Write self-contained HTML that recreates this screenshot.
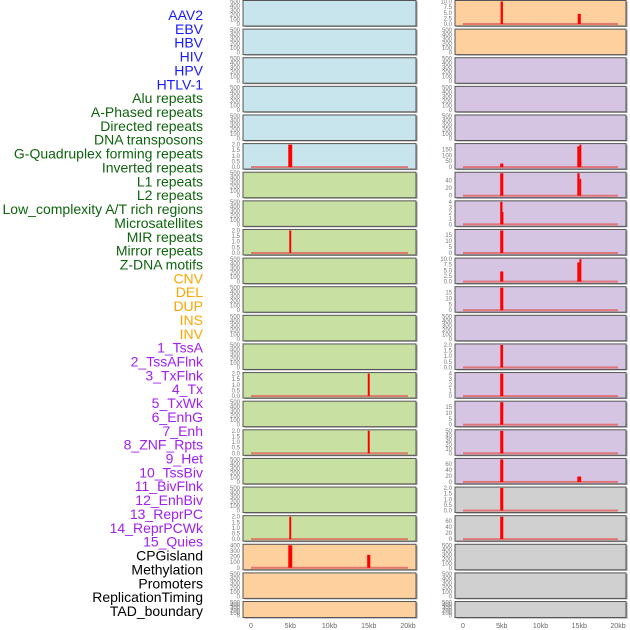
<!DOCTYPE html>
<html><head><meta charset="utf-8"><style>
html,body{margin:0;padding:0;background:#fff;width:630px;height:630px;overflow:hidden}
svg{display:block;font-family:"Liberation Sans",sans-serif}
</style></head><body>
<svg id="chart" width="630" height="630" viewBox="0 0 630 630"></svg>
<script>
const labels=["AAV2","EBV","HBV","HIV","HPV","HTLV-1","Alu repeats","A-Phased repeats","Directed repeats","DNA transposons","G-Quadruplex forming repeats","Inverted repeats","L1 repeats","L2 repeats","Low_complexity A/T rich regions","Microsatellites","MIR repeats","Mirror repeats","Z-DNA motifs","CNV","DEL","DUP","INS","INV","1_TssA","2_TssAFlnk","3_TxFlnk","4_Tx","5_TxWk","6_EnhG","7_Enh","8_ZNF_Rpts","9_Het","10_TssBiv","11_BivFlnk","12_EnhBiv","13_ReprPC","14_ReprPCWk","15_Quies","CPGisland","Methylation","Promoters","ReplicationTiming","TAD_boundary"];
const labelGroups=[0,0,0,0,0,0,1,1,1,1,1,1,1,1,1,1,1,1,1,2,2,2,2,2,3,3,3,3,3,3,3,3,3,3,3,3,3,3,3,4,4,4,4,4];
const xTicks=[0,5,10,15,20];
const xTickLabels=["0","5kb","10kb","15kb","20kb"];
const leftColors=["b","b","b","b","b","b","g","g","g","g","g","g","g","g","g","g","g","g","g","o","o","o"];
const rightColors=["o","o","p","p","p","p","p","p","p","p","p","p","p","p","p","p","p","g2","g2","g2","g2","g2"];
const leftMax=[500,500,500,500,500,2,500,500,2,500,500,500,500,2,500,2,500,500,2,400,500,500];
const rightMax=[10,500,500,500,500,190,60,4,19,10,19,500,2,4,19,50,75,2,75,500,500,500];
const leftTicks=[null,null,null,null,null,[0,0.5,1,1.5,2],null,null,[0,0.5,1,1.5,2],null,null,null,null,[0,0.5,1,1.5,2],null,[0,0.5,1,1.5,2],null,null,[0,0.5,1,1.5,2],[0,100,200,300,400],null,null];
const rightTicks=[[0,2.5,5,7.5,10],null,null,null,null,[0,50,100,150],[0,20,40],[0,1,2,3,4],[0,5,10,15],[0,2.5,5,7.5,10],[0,5,10,15],null,[0,0.5,1,1.5,2],[0,1,2,3,4],[0,5,10,15],[0,10,20,30,40,50],[0,20,40,60],[0,0.5,1,1.5,2],[0,20,40,60],null,null,null];
// bars: [panelIndex, positionKb, value, widthKb]
const leftBars=[[5,5,2,0.5],[8,5,2,0.25],[13,15,2,0.25],[15,15,2,0.25],[18,5,2,0.25],[19,5,400,0.5],[19,15,230,0.4]];
const rightBars=[[0,5,10,0.3],[0,15,4.5,0.4],[5,5,30,0.4],[5,14.9,175,0.3],[5,15.15,190,0.25],[6,5,60,0.4],[6,14.9,60,0.3],[6,15.15,45,0.2],[7,4.95,4,0.3],[7,5.12,2.2,0.15],[8,5,19,0.4],[9,5,4.5,0.4],[9,14.9,8.5,0.3],[9,15.15,10,0.25],[10,5,19,0.4],[12,5,2,0.35],[13,5,4,0.4],[14,5,19,0.4],[15,5,50,0.4],[16,5,75,0.4],[16,15,18,0.5],[17,5,2,0.4],[18,5,75,0.4]];

const NS="http://www.w3.org/2000/svg";
const svg=document.getElementById("chart");
function mk(tag,attrs,parent){const e=document.createElementNS(NS,tag);for(const k in attrs)e.setAttribute(k,attrs[k]);(parent||svg).appendChild(e);return e;}
const fills={b:"#c8e4ec",g:"#c8e0a2",o:"#fed09e",p:"#d5c5e2",g2:"#d0d0d0"};
const labelColors=["#1a1aff","#0e640e","#ffa500","#a020f0","#000"];

labels.forEach((t,i)=>{
  const e=mk("text",{x:203,y:20+i*13.86,"text-anchor":"end","font-size":"14",fill:labelColors[labelGroups[i]]});
  
  
  e.textContent=t;
});

function rowTop(i){return i*28.62;}
function rowH(i){return i===21?16:25.5;}
function drawCol(x0,x1,colors,maxes,ticks,bars,name){
  const xs=kb=>x0+8+(x1-x0-16)*kb/20;
  for(let i=0;i<colors.length;i++){
    const top=rowTop(i),h=rowH(i);
    const g=mk("g",{});
    
    
    mk("rect",{x:x0+1.5,y:top+1.5,width:x1-x0,height:h,fill:"#999"},g);
    const r=mk("rect",{x:x0,y:top+0.5,width:x1-x0,height:h,fill:fills[colors[i]],stroke:"#555","stroke-width":1},g);
    
    
    const max=maxes[i];
    const ybot=top+h-1.5, ytop=top+1.5;
    const ys=v=>ybot-(ybot-ytop)*v/max;
    const tk=ticks[i]||[0,100,200,300,400,500];
    const dec=tk.some(v=>!Number.isInteger(v));
    tk.forEach(v=>{
      const t=mk("text",{x:x0-3,y:ys(v)+2,"text-anchor":"end","font-size":"6",fill:"#777"},g);
      
      
      t.textContent=dec?v.toFixed(1):String(v);
    });
    const pb=bars.filter(b=>b[0]===i);
    if(pb.length){
      const bl=mk("rect",{x:xs(0),y:ybot-1,width:xs(20)-xs(0),height:2,fill:"#e06060",opacity:0.8},g);
      
      
      pb.forEach(b=>{
        const w=Math.max(1.5,(xs(b[3])-xs(0)));
        const br=mk("rect",{x:xs(b[1])-w/2,y:ys(b[2]),width:w,height:ybot-ys(b[2]),fill:"#ff0000"},g);
        
        
      });
    }
  }
  xTicks.forEach((v,j)=>{
    const t=mk("text",{x:xs(v),y:628,"text-anchor":"middle","font-size":"7",fill:"#666"});
    
    
    t.textContent=xTickLabels[j];
  });
}
drawCol(243,416,leftColors,leftMax,leftTicks,leftBars,'left');
drawCol(455,626,rightColors,rightMax,rightTicks,rightBars,'right');
</script>
</body></html>
